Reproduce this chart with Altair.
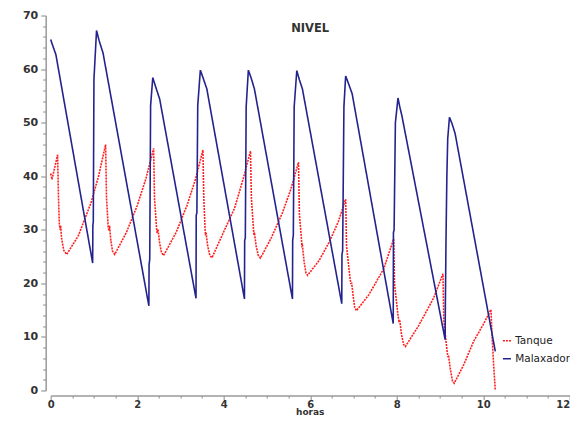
import altair as alt
import pandas as pd

# ---- data ----
series_names = ["Tanque", "Malaxador"]
series_colors = ["#ff1f1f", "#23238e"]
chart_title = ["NIVEL"]
x_title = ["horas"]

x_tick_values = [0, 0.5, 1, 1.5, 2, 2.5, 3, 3.5, 4, 4.5, 5, 5.5, 6, 6.5, 7, 7.5,
                 8, 8.5, 9, 9.5, 10, 10.5, 11, 11.5, 12]
y_tick_values = [0, 2, 4, 6, 8, 10, 12, 14, 16, 18, 20, 22, 24, 26, 28, 30, 32, 34,
                 36, 38, 40, 42, 44, 46, 48, 50, 52, 54, 56, 58, 60, 62, 64, 66, 68, 70]

tanque_x = [0.00, 0.03, 0.16, 0.18, 0.20, 0.22, 0.23, 0.25, 0.30, 0.37,
            0.64, 0.93, 1.10, 1.27,
            1.29, 1.33, 1.35, 1.36, 1.39, 1.43, 1.48,
            1.75, 2.00, 2.20, 2.38,
            2.40, 2.45, 2.46, 2.48, 2.52, 2.56, 2.61,
            2.90, 3.15, 3.35, 3.52,
            3.54, 3.57, 3.58, 3.59, 3.63, 3.68, 3.73,
            4.05, 4.25, 4.45, 4.62,
            4.64, 4.69, 4.70, 4.71, 4.75, 4.80, 4.85,
            5.10, 5.35, 5.55, 5.73,
            5.75, 5.80, 5.81, 5.82, 5.86, 5.90, 5.94,
            6.20, 6.44, 6.65, 6.82,
            6.84, 6.92, 6.94, 6.96, 7.00, 7.03, 7.07,
            7.35, 7.70, 7.93,
            7.95, 8.03, 8.05, 8.07, 8.11, 8.16, 8.20,
            8.50, 8.85, 9.07,
            9.09, 9.17, 9.19, 9.20, 9.24, 9.29, 9.33,
            9.55, 9.78, 10.00, 10.18,
            10.20, 10.24, 10.28]
tanque_y = [40.5, 39.4, 44.0, 36.0, 31.0, 30.0, 30.8, 28.5, 26.2, 25.4,
            28.9, 35.0, 39.8, 45.9,
            36.0, 30.5, 29.8, 30.8, 28.0, 26.0, 25.4,
            29.5, 34.5, 39.5, 45.2,
            36.0, 30.0, 29.4, 30.1, 27.5, 25.8, 25.2,
            29.5, 34.5, 39.5, 44.9,
            36.0, 30.0, 29.0, 29.5, 27.0, 25.2, 24.8,
            30.5, 34.0, 39.5, 44.7,
            36.0, 30.0, 29.0, 29.5, 27.0, 25.2, 24.7,
            28.5, 33.0, 37.5, 42.6,
            33.0, 28.0, 27.0, 27.1, 24.0, 22.0, 21.5,
            24.2, 27.7, 31.5, 35.7,
            27.0, 21.0, 20.0, 20.0, 17.2, 15.5, 14.9,
            17.8, 22.7, 28.3,
            20.0, 14.0, 13.0, 13.2, 10.5, 8.6, 8.2,
            12.0, 17.2, 21.8,
            13.0, 7.0, 6.2, 6.5, 4.0, 1.8, 1.35,
            4.8, 9.2, 12.3, 15.1,
            11.0, 5.0, 0.0]

malax_x = [0.00, 0.05, 0.12, 0.97, 0.975, 0.985, 1.00, 1.06, 1.12, 1.21,
           2.27, 2.275, 2.29, 2.31, 2.36, 2.43, 2.52,
           3.36, 3.365, 3.38, 3.40, 3.46, 3.53, 3.61,
           4.48, 4.485, 4.50, 4.52, 4.57, 4.64, 4.71,
           5.59, 5.595, 5.61, 5.63, 5.69, 5.75, 5.82,
           6.73, 6.735, 6.75, 6.78, 6.82, 6.89, 6.97,
           7.92, 7.925, 7.94, 7.97, 8.03, 8.07, 8.12,
           9.12, 9.125, 9.14, 9.16, 9.18, 9.22, 9.28, 9.35,
           10.28]
malax_y = [65.5, 64.3, 62.7, 23.8, 30.8, 31.5, 58.1, 67.2, 65.3, 63.0,
           15.8, 23.5, 24.5, 53.2, 58.4, 56.6, 54.4,
           17.2, 32.7, 33.2, 53.2, 59.8, 58.2, 56.3,
           17.1, 28.0, 28.5, 53.0, 59.8, 58.2, 56.3,
           17.1, 28.0, 29.0, 53.0, 59.7, 58.0, 56.3,
           16.2, 25.5, 26.0, 53.0, 58.7, 57.2, 55.4,
           12.5, 29.5, 30.0, 50.0, 54.6, 53.0, 51.3,
           9.5, 15.4, 28.0, 40.0, 47.0, 51.0, 49.8, 48.0,
           7.3]

rows = []
for i, (x, y) in enumerate(zip(tanque_x, tanque_y)):
    rows.append({"serie": series_names[0], "horas": x, "nivel": y, "i": i})
for i, (x, y) in enumerate(zip(malax_x, malax_y)):
    rows.append({"serie": series_names[1], "horas": x, "nivel": y, "i": i})
df = pd.DataFrame(rows)
title_df = pd.DataFrame({"t": chart_title})
xtitle_df = pd.DataFrame({"t": x_title})

FONT = "DejaVu Sans"
AX = "#9a9a9a"
LEFT = 42.7
W, H = 519, 375
TOP = 7.5
SVG_H = 409

legend = alt.Legend(orient="none", legendX=451, legendY=320, title=None,
                    symbolType="stroke", symbolSize=64, symbolStrokeWidth=1.5,
                    labelFont=FONT, labelFontSize=10.5, labelColor="#222",
                    padding=0, rowPadding=7, labelOffset=3)

x_axis = alt.Axis(values=x_tick_values,
                  labelExpr="datum.value % 2 === 0 ? format(datum.value, 'd') : ''",
                  labelAlign={"condition": {"test": "datum.value === 12", "value": "right"}, "value": "center"},
                  tickSize={"condition": {"test": "datum.value % 2 === 0", "value": 4}, "value": 2.5},
                  offset=5, grid=False, labelOverlap=False, labelFlush=False,
                  domainColor=AX, domainWidth=1.5, tickColor=AX, tickWidth=1.2,
                  labelFont=FONT, labelFontSize=10, labelFontWeight="bold", labelColor="#333",
                  labelPadding=0, title=None)
y_axis = alt.Axis(values=y_tick_values,
                  labelExpr="datum.value % 10 === 0 ? format(datum.value, 'd') : ''",
                  tickSize={"condition": {"test": "datum.value % 10 === 0", "value": 5}, "value": 3},
                  offset=5, grid=False, labelOverlap=False, labelFlush=False,
                  domainColor=AX, domainWidth=1.5, tickColor=AX, tickWidth=1.2,
                  labelFont=FONT, labelFontSize=11, labelFontWeight="bold", labelColor="#333",
                  labelPadding=3, title=None)

lines = alt.Chart(df).mark_line(strokeWidth=1.6, clip=False).encode(
    x=alt.X("horas:Q", scale=alt.Scale(domain=[0, 12], nice=False, zero=False), axis=x_axis),
    y=alt.Y("nivel:Q", scale=alt.Scale(domain=[0, 70], nice=False), axis=y_axis),
    color=alt.Color("serie:N", scale=alt.Scale(domain=series_names, range=series_colors), legend=legend),
    strokeDash=alt.StrokeDash("serie:N", scale=alt.Scale(domain=series_names, range=[[2, 1], [1, 0]]), legend=legend),
    order="i:Q",
)

title = alt.Chart(title_df).mark_text(font=FONT, fontSize=11.5, fontWeight="bold",
                                       color="#333", baseline="middle", align="center").encode(
    x=alt.value(W / 2), y=alt.value(13.5), text="t:N")

xtitle = alt.Chart(xtitle_df).mark_text(font=FONT, fontSize=9, fontWeight="bold",
                                         color="#333", baseline="alphabetic", align="center").encode(
    x=alt.value(W / 2), y=alt.value(SVG_H - TOP - 1.5), text="t:N")

chart = alt.layer(lines, title, xtitle).properties(
    width=W, height=H,
    padding={"left": LEFT, "top": TOP, "right": 0, "bottom": SVG_H - TOP - H},
    autosize=alt.AutoSizeParams(type="none"),
).configure_view(stroke=None)

chart.save("out.html", embed_options={"renderer": "svg", "actions": False})
